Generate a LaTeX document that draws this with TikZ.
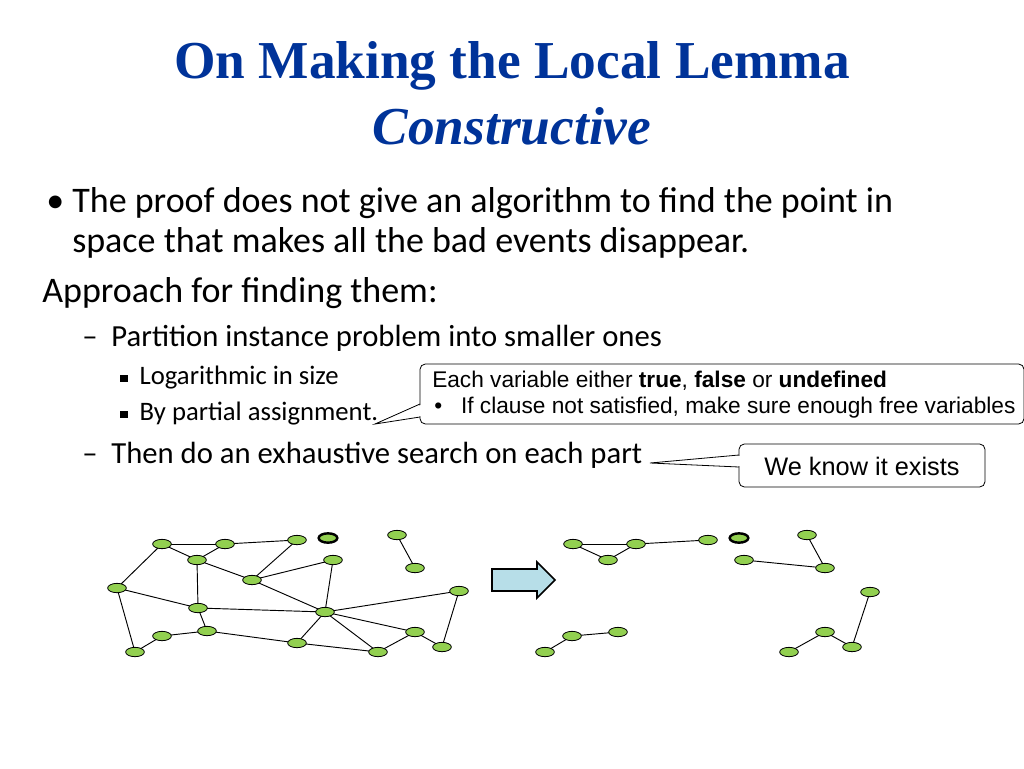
\documentclass[tikz,border=0pt]{standalone}
\usepackage{fontspec}
\setmainfont{Carlito}
\newfontfamily\titlefont{Liberation Serif}
\newfontfamily\arialfont{Liberation Sans}
\usetikzlibrary{shapes.geometric,backgrounds}
\definecolor{tblue}{RGB}{0,51,153}
\definecolor{vgreen}{RGB}{146,208,80}
\definecolor{arrfill}{RGB}{183,222,232}
\newcommand{\sqb}{\raisebox{2pt}{\tikz\fill (0,0) rectangle (5.5pt,5.5pt);}}
\begin{document}
\begin{tikzpicture}[x=0.75pt,y=-0.75pt,
 v/.style={ellipse,draw,fill=vgreen,line width=0.6pt,minimum width=14pt,minimum height=7pt,inner sep=0pt},
 vd/.style={v,line width=1.8pt},
 e/.style={line width=0.7pt},
 txt/.style={anchor=west,inner sep=0pt},
 callout/.style={draw,rounded corners=4pt,fill=white,line width=0.6pt}]
\useasboundingbox (0,0) rectangle (1024,768);
\node[tblue,font=\titlefont\bfseries\fontsize{40}{44}\selectfont] (t1) at (512,66) {On Making the Local Lemma};
\node[tblue,font=\titlefont\bfseries\itshape\fontsize{40}{44}\selectfont] (t2) at (512,126) {Constructive};
\begin{scope}[font=\fontsize{27}{31}\selectfont]
\node[txt] (b1) at (46,203) {•\ The proof does not give an algorithm to find the point in};
\node[txt] (b1b) at (72,243) {space that makes all the bad events disappear.};
\node[txt] (b2) at (42,293) {Approach for finding them:};
\end{scope}
\begin{scope}[font=\fontsize{23}{27}\selectfont]
\node[txt] (b3) at (82,338) {–\ \ Partition instance problem into smaller ones};
\node[txt] (b6) at (82,455) {–\ \ Then do an exhaustive search on each part};
\end{scope}
\begin{scope}[font=\fontsize{20}{24}\selectfont]
\node[txt] (b4) at (120,378) {\sqb\ \ Logarithmic in size};
\node[txt] (b5) at (120,414) {\sqb\ \ By partial assignment.};
\end{scope}
% callouts
\coordinate (p1) at (375,424);
\coordinate (p2) at (650,463);
\draw[callout] (420,364) rectangle (1024,424);
\fill[white] (421,405) -- (p1) -- (421,416) -- cycle;
\draw[line width=0.6pt] (420,404) -- (p1) -- (420,417);
\node[txt,font=\arialfont\fontsize{17}{20}\selectfont] (c1) at (432,381) {Each variable either \textbf{true}, \textbf{false} or \textbf{undefined}};
\node[txt,font=\arialfont\fontsize{17}{20}\selectfont] (c1b) at (434,408) {•\ \ \ If clause not satisfied, make sure enough free variables};
\draw[callout] (739,444) rectangle (985,487);
\fill[white] (740,456) -- (p2) -- (740,466) -- cycle;
\draw[line width=0.6pt] (739,455) -- (p2) -- (739,467);
\node[font=\arialfont\fontsize{19}{22}\selectfont] (c2) at (862,466) {We know it exists};
% big arrow
\draw[fill=arrfill,line width=1.2pt,line join=miter] (492,569) -- (537,569) -- (537,562) -- (555,580) -- (537,598) -- (537,591) -- (492,591) -- cycle;
% left graph
\foreach \n/\x/\y in {A/162/544,B/225/544,C/297/540,E/397/535,F/197/560,G/333/560,H/252/580,I/415/568,J/117/588,K/198/608,L/459/591,M/325/612,N/162/636,O/207/631,P/297/643,Q/415/632,R/135/652,S/378/652,T/442/647}
  \node[v] (\n) at (\x,\y) {};
\node[vd] (D) at (328,538) {};
\begin{pgfonlayer}{background}
\foreach \a/\b in {A/B,A/J,A/F,F/B,B/C,F/K,F/H,H/C,H/G,G/M,H/M,J/K,J/R,K/M,K/O,M/L,L/T,O/N,N/R,O/P,P/S,M/P,M/S,M/Q,Q/S,Q/T,E/I}
  \draw[e] (\a.center) -- (\b.center);
\end{pgfonlayer}
% right graph
\foreach \n/\x/\y in {a/573/544,b/636/544,c/608/560,d/708/540,f/807/535,g/744/560,h/825/568,i/870/592,j/572/636,k/618/632,l/545/652,m/825/632,n/789/652,o/852/647}
  \node[v] (\n) at (\x,\y) {};
\node[vd] (dd) at (739,538) {};
\begin{pgfonlayer}{background}
\foreach \a/\b in {a/b,a/c,c/b,b/d,f/h,g/h,i/o,m/o,m/n,l/j,j/k}
  \draw[e] (\a.center) -- (\b.center);
\end{pgfonlayer}
\end{tikzpicture}
\end{document}
